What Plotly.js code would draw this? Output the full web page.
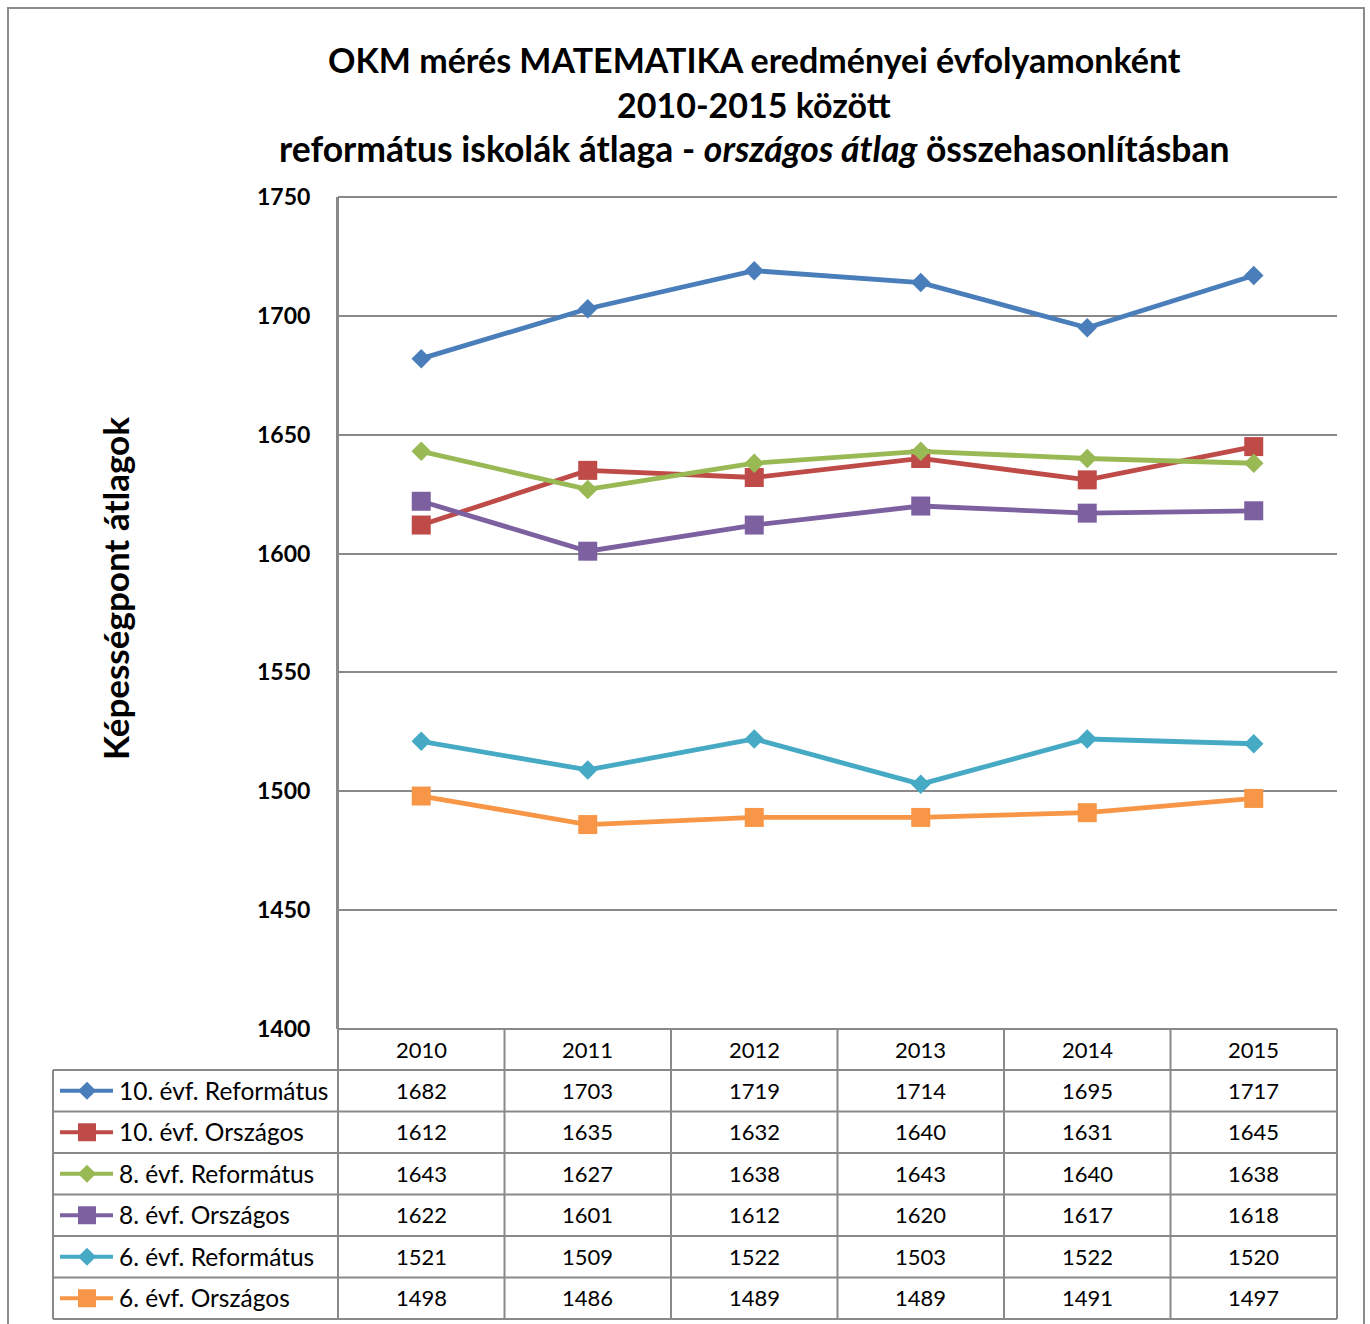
<!DOCTYPE html>
<html>
<head>
<meta charset="utf-8">
<script src="https://cdn.plot.ly/plotly-3.0.1.min.js"></script>
<style>html,body{margin:0;padding:0;background:#fff;}</style>
</head>
<body>
<div id="chart" style="width:1370px;height:1324px;"></div>
<script>
// ---- data ----
const years = [2010, 2011, 2012, 2013, 2014, 2015];
const seriesNames = ["10. évf. Református", "10. évf. Országos", "8. évf. Református", "8. évf. Országos", "6. évf. Református", "6. évf. Országos"];
const ref10 = [1682, 1703, 1719, 1714, 1695, 1717];
const orsz10 = [1612, 1635, 1632, 1640, 1631, 1645];
const ref8 = [1643, 1627, 1638, 1643, 1640, 1638];
const orsz8 = [1622, 1601, 1612, 1620, 1617, 1618];
const ref6 = [1521, 1509, 1522, 1503, 1522, 1520];
const orsz6 = [1498, 1486, 1489, 1489, 1491, 1497];
const yTicks = [1400, 1450, 1500, 1550, 1600, 1650, 1700, 1750];
const titleLines = ["OKM mérés MATEMATIKA eredményei évfolyamonként", "2010-2015 között", "református iskolák átlaga - <i>országos átlag</i> összehasonlításban"];
const yTitle = "Képességpont átlagok";

// ---- styles ----
const allValues = [ref10, orsz10, ref8, orsz8, ref6, orsz6];
const colors = ["#4A7EBB", "#BE4B48", "#98B954", "#7D60A0", "#46AAC5", "#F79646"];
const symbols = ["diamond", "square", "diamond", "square", "diamond", "square"];
const sizes = [15, 19, 15, 19, 15, 19];
const FONT = "Lato, 'Open Sans', sans-serif";
const W = 1370, H = 1324;
const px = v => v / W;
const py = v => 1 - v / H;

const plotL = 338, plotR = 1337, plotT = 197, plotB = 1029;
const tableL = 53, rowH = 41.5, headB = 1070;
const colW = (plotR - plotL) / years.length;
const gridCol = "#898989";

const traces = [];
allValues.forEach((vals, i) => {
  traces.push({
    x: years, y: vals, type: "scatter", mode: "lines+markers", name: seriesNames[i],
    line: {color: colors[i], width: 4.8},
    marker: {symbol: symbols[i], size: sizes[i], color: colors[i]},
    showlegend: false, hoverinfo: "skip", xaxis: "x", yaxis: "y"
  });
});

// legend keys in the table (pixel-coordinate overlay axes)
allValues.forEach((vals, i) => {
  const cy = headB + rowH * (i + 0.5);
  traces.push({
    x: [60, 113], y: [cy, cy], type: "scatter", mode: "lines",
    line: {color: colors[i], width: 4},
    showlegend: false, hoverinfo: "skip", xaxis: "x2", yaxis: "y2"
  });
  traces.push({
    x: [87], y: [cy], type: "scatter", mode: "markers",
    marker: {symbol: symbols[i], size: sizes[i] - 1, color: colors[i], opacity: 1},
    showlegend: false, hoverinfo: "skip", xaxis: "x2", yaxis: "y2"
  });
});

const shapes = [];
const lineStyle = {color: gridCol, width: 2};
// outer frame
shapes.push({type: "path", xref: "paper", yref: "paper",
  path: `M ${px(8)},${py(1330)} L ${px(8)},${py(8)} L ${px(1364)},${py(8)} L ${px(1364)},${py(1330)}`,
  line: {color: "#8c8c8c", width: 2}});
// top gridline of plot area
shapes.push({type: "line", xref: "paper", yref: "paper", x0: px(plotL), x1: px(plotR), y0: py(plotT), y1: py(plotT), line: lineStyle, layer: "below"});
// table horizontal lines
shapes.push({type: "line", xref: "paper", yref: "paper", x0: px(plotL), x1: px(plotR), y0: py(plotB), y1: py(plotB), line: lineStyle});
for (let r = 0; r <= seriesNames.length; r++) {
  const yy = headB + rowH * r;
  shapes.push({type: "line", xref: "paper", yref: "paper", x0: px(tableL), x1: px(plotR), y0: py(yy), y1: py(yy), line: lineStyle});
}
// table vertical lines
const tableBottom = headB + rowH * seriesNames.length;
shapes.push({type: "line", xref: "paper", yref: "paper", x0: px(tableL), x1: px(tableL), y0: py(headB), y1: py(tableBottom), line: lineStyle});
for (let c = 0; c <= years.length; c++) {
  const xx = plotL + colW * c;
  shapes.push({type: "line", xref: "paper", yref: "paper", x0: px(xx), x1: px(xx), y0: py(c === 0 ? plotT : plotB), y1: py(tableBottom), line: lineStyle});
}

const annotations = [];
const titleY = [59, 104, 149];
const titleSize = [34, 34, 35.5];
titleLines.forEach((t, i) => {
  annotations.push({text: "<b>" + t + "</b>", xref: "paper", yref: "paper", x: px(754), y: py(titleY[i]),
    xanchor: "center", yanchor: "middle", showarrow: false, font: {family: FONT, size: titleSize[i], color: "#000"}});
});
annotations.push({text: "<b>" + yTitle + "</b>", xref: "paper", yref: "paper", x: px(115), y: py(588),
  xanchor: "center", yanchor: "middle", textangle: -90, showarrow: false, font: {family: FONT, size: 35, color: "#000"}});
// header years
years.forEach(yr => {
  annotations.push({text: String(yr), xref: "x", yref: "paper", x: yr, y: py((plotB + headB) / 2 - 0.5),
    xanchor: "center", yanchor: "middle", showarrow: false, font: {family: FONT, size: 22, color: "#000"}});
});
// rows
allValues.forEach((vals, i) => {
  const cy = headB + rowH * (i + 0.5) - 0.5;
  annotations.push({text: seriesNames[i], xref: "paper", yref: "paper", x: px(117), y: py(cy),
    xanchor: "left", yanchor: "middle", showarrow: false, font: {family: FONT, size: 24.5, color: "#000"}});
  vals.forEach((v, j) => {
    annotations.push({text: String(v), xref: "x", yref: "paper", x: years[j], y: py(cy),
      xanchor: "center", yanchor: "middle", showarrow: false, font: {family: FONT, size: 22, color: "#000"}});
  });
});

const layout = {
  width: W, height: H, margin: {l: 0, r: 0, t: 0, b: 0},
  paper_bgcolor: "#fff", plot_bgcolor: "rgba(0,0,0,0)",
  showlegend: false,
  xaxis: {domain: [px(plotL), px(plotR)], range: [2009.5, 2015.5], showticklabels: false, showgrid: false,
    zeroline: false, showline: false, ticks: "", fixedrange: true},
  yaxis: {domain: [py(plotB), py(plotT)], range: [1400, 1750], tickvals: yTicks, ticktext: yTicks.map(String),
    showgrid: true, gridcolor: gridCol, gridwidth: 2, zeroline: false, showline: true, linecolor: gridCol, linewidth: 2,
    ticks: "", ticklabelstandoff: 21, tickfont: {family: FONT, size: 23, color: "#000", weight: "bold"}, fixedrange: true},
  xaxis2: {domain: [0, 1], range: [0, W], visible: false, anchor: "y2", fixedrange: true},
  yaxis2: {domain: [0, 1], range: [H, 0], visible: false, anchor: "x2", fixedrange: true},
  shapes: shapes,
  annotations: annotations
};

Plotly.newPlot("chart", traces, layout, {displayModeBar: false, staticPlot: true});
</script>
</body>
</html>
